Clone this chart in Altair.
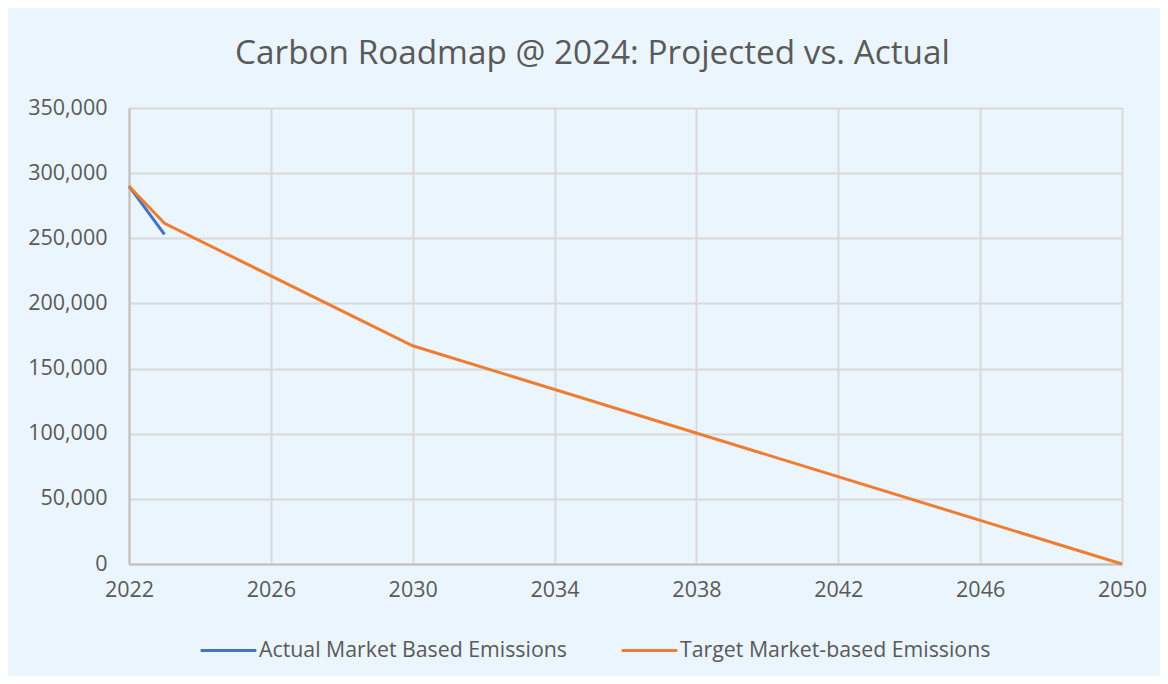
import altair as alt
import pandas as pd

# ---- data ----
actual_years = [2022, 2023]
actual_values = [290000, 253000]
target_years = [2022, 2023, 2030, 2050]
target_values = [290000, 261500, 167500, 0]

series_names = ["Actual Market Based Emissions", "Target Market-based Emissions"]
series_colors = ["#4472C4", "#ED7D31"]
x_ticks = [2022, 2026, 2030, 2034, 2038, 2042, 2046, 2050]
y_ticks = [0, 50000, 100000, 150000, 200000, 250000, 300000, 350000]

rows = []
for yr, v in zip(actual_years, actual_values):
    rows.append({"year": yr, "value": v, "series": series_names[0]})
for yr, v in zip(target_years, target_values):
    rows.append({"year": yr, "value": v, "series": series_names[1]})
df = pd.DataFrame(rows)

FONT = "Open Sans"
TXT = "#595959"

chart = alt.Chart(df).mark_line(strokeWidth=3).encode(
    x=alt.X("year:Q",
            scale=alt.Scale(domain=[2022, 2050], nice=False, zero=False),
            axis=alt.Axis(values=x_ticks, format="d", title=None, labelPadding=15,
                          labelFlush=False)),
    y=alt.Y("value:Q",
            scale=alt.Scale(domain=[0, 350000], nice=False),
            axis=alt.Axis(values=y_ticks, format=",d", title=None, labelPadding=22)),
    color=alt.Color("series:N",
                    scale=alt.Scale(domain=series_names, range=series_colors),
                    legend=alt.Legend(orient="none", direction="horizontal",
                                      legendX=70, legendY=513, title=None,
                                      symbolType="stroke", symbolSize=3100,
                                      symbolStrokeWidth=3, labelOffset=1,
                                      columnPadding=48, labelFontSize=21.3,
                                      labelFont=FONT, labelColor=TXT,
                                      labelLimit=400)),
    detail="series:N",
).properties(
    width=993,
    height=456,
    padding={"left": 121, "top": 100, "right": 38, "bottom": 112},
    autosize=alt.AutoSizeParams(type="none"),
    title=alt.TitleParams("Carbon Roadmap @ 2024: Projected vs. Actual",
                          anchor="middle", dx=-33, offset=0,
                          baseline="alphabetic",
                          fontSize=33.3, font=FONT, fontWeight="normal", color=TXT),
).configure(
    background="#EBF5FD",
).configure_view(
    stroke=None,
).configure_axis(
    labelFont=FONT, labelFontSize=21.5, labelColor=TXT,
    gridColor="#D9D9D9", gridWidth=2,
    domainColor="#BFBFBF", domainWidth=2,
    ticks=False,
)

chart.save("out.html", embed_options={"renderer": "svg", "actions": False})
